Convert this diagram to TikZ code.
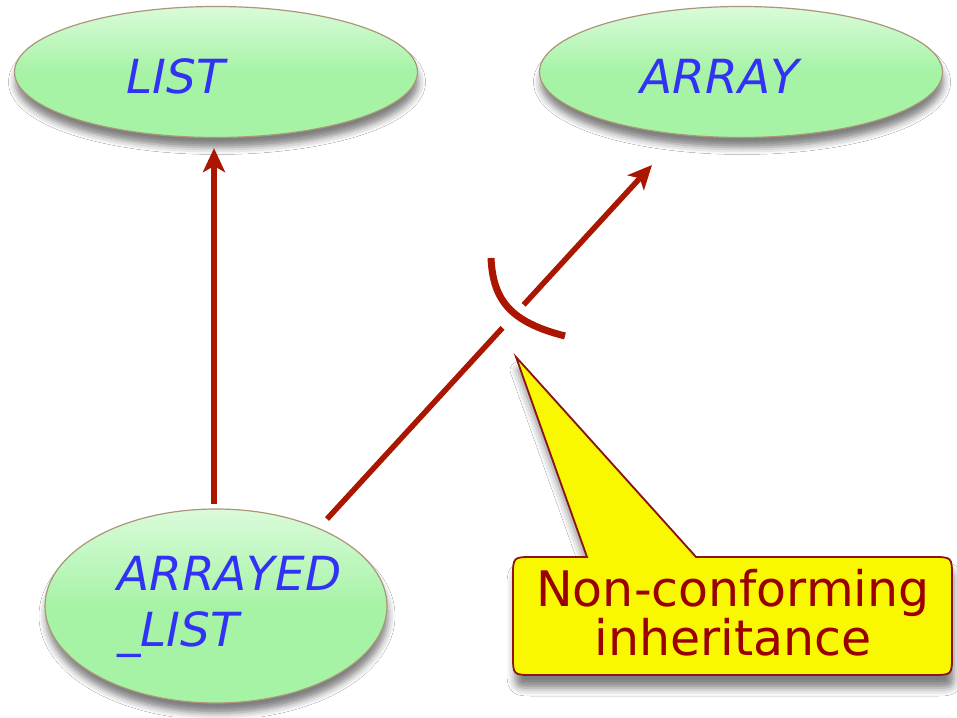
\documentclass[tikz,border=0pt]{standalone}
\usepackage{fontspec}
\newfontfamily\labelfont{DejaVu Sans}
\usetikzlibrary{shapes.geometric,arrows.meta,calc,shadows.blur}

\definecolor{nodegreen}{RGB}{166,243,166}
\definecolor{nodetop}{RGB}{218,251,218}
\definecolor{nodeedge}{RGB}{170,150,120}
\definecolor{classblue}{RGB}{50,50,245}
\definecolor{linkred}{RGB}{170,22,0}
\definecolor{noteyellow}{RGB}{250,248,0}
\definecolor{noteedge}{RGB}{140,20,20}
\definecolor{notetext}{RGB}{155,0,0}

\begin{document}
\begin{tikzpicture}[x=1pt,y=-1pt,
  classnode/.style={ellipse, draw=nodeedge, line width=1.2pt,
    top color=nodetop, bottom color=nodegreen, middle color=nodegreen,
    inner sep=0pt,
    blur shadow={shadow xshift=1pt, shadow yshift=-10pt,
      shadow blur radius=7pt, shadow opacity=50}},
  classname/.style={text=classblue, inner sep=0pt,
    font=\labelfont\itshape\fontsize{47}{56}\selectfont},
  link/.style={draw=linkred, line width=5.5pt},
  linktip/.style={link, -{Stealth[length=24pt,width=22pt,inset=6pt]}},
  crossmark/.style={draw=linkred, line width=7pt},
  notebox/.style={fill=noteyellow, draw=noteedge, line width=1.8pt,
    blur shadow={shadow xshift=2pt, shadow yshift=-13pt,
      shadow blur radius=8pt, shadow opacity=50}},
  notelabel/.style={text=notetext, align=center, inner sep=0pt,
    font=\labelfont\fontsize{49}{49}\selectfont}
]
\fill[white] (0,0) rectangle (957,717);
\useasboundingbox (0,0) rectangle (957,717);

% classes
\node[classnode, minimum width=403pt, minimum height=131pt] (list) at (216,72) {};
\node[classnode, minimum width=403pt, minimum height=131pt] (array) at (741,72) {};
\node[classnode, minimum width=342pt, minimum height=194pt] (al) at (216,606) {};

\node[classname, anchor=base] (listname) at (176,93) {LIST};
\node[classname, anchor=base] (arrayname) at (720,93) {ARRAY};
\node[classname, anchor=west, align=left] (alname) at (117,607) {ARRAYED\\\_LIST};

% conforming inheritance
\draw[linktip, shorten <=4pt, shorten >=10pt]
  ([xshift=-2pt]al.north) -- ([xshift=-2pt]list.south);

% non-conforming inheritance, interrupted by the crossing mark
\coordinate (d0) at (327,519);
\coordinate (d1) at (652,165);
\draw[link] (d0) -- ($(d0)!0.54!(d1)$);
\draw[linktip] ($(d0)!0.605!(d1)$) -- (d1);
\draw[crossmark] (491,258) .. controls (493,300) and (510,322) .. (565,336);

% callout
\draw[notebox] (513,577) .. controls (513,557) .. (533,557) -- (587,557)
  -- (516,357) -- (696,557) -- (932,557) .. controls (952,557) .. (952,577)
  -- (952,655) .. controls (952,675) .. (932,675) -- (533,675)
  .. controls (513,675) .. (513,655) -- cycle;
\node[notelabel] (note) at (733,613) {Non-conforming\\inheritance};
\end{tikzpicture}
\end{document}
